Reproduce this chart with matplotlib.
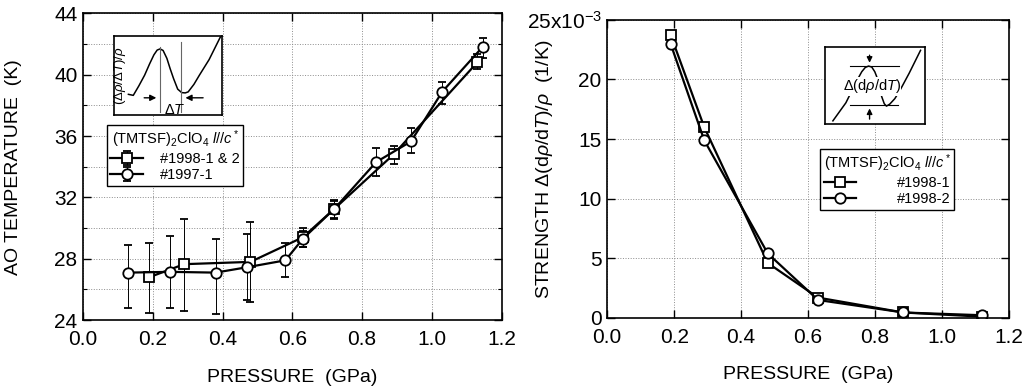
import matplotlib.pyplot as plt
from matplotlib.ticker import MultipleLocator, FixedLocator, FixedFormatter

plt.rcParams["font.family"] = ["Liberation Sans", "DejaVu Sans"]
plt.rcParams["mathtext.fontset"] = "custom"
plt.rcParams["mathtext.rm"] = "Liberation Sans"
plt.rcParams["mathtext.it"] = "Liberation Sans:italic"

# left panel: AO temperature vs pressure
sq_p = [0.19, 0.29, 0.48, 0.63, 0.72, 0.89, 1.13]
sq_t = [26.8, 27.65, 27.8, 29.4, 31.25, 34.8, 40.8]
sq_lo = [2.3, 3.05, 2.6, 0.6, 0.6, 0.6, 0.4]
sq_hi = [2.2, 2.95, 2.6, 0.6, 0.5, 0.55, 0.55]

ci_p = [0.13, 0.25, 0.38, 0.47, 0.58, 0.63, 0.72, 0.84, 0.94, 1.03, 1.145]
ci_t = [27.1, 27.15, 27.1, 27.45, 27.9, 29.3, 31.25, 34.3, 35.65, 38.9, 41.8]
ci_lo = [2.3, 2.35, 2.7, 2.15, 1.1, 0.5, 0.65, 0.9, 0.75, 0.8, 0.7]
ci_hi = [1.8, 2.35, 2.2, 2.15, 1.1, 0.5, 0.55, 0.9, 0.85, 0.65, 0.6]

# right panel: strength (x10^-3 1/K) vs pressure
r_p = [0.19, 0.29, 0.48, 0.63, 0.885, 1.12]
r_sq = [23.7, 16.0, 4.6, 1.7, 0.45, 0.1]
r_ci = [22.95, 14.9, 5.4, 1.5, 0.45, 0.22]

# inset sketches (axes-fraction coordinates)
insL_x = [0.134, 0.179, 0.23, 0.284, 0.33, 0.37, 0.40, 0.427, 0.455, 0.49, 0.52, 0.552,
          0.59, 0.627, 0.66, 0.687, 0.74, 0.791, 0.881, 0.985]
insL_y = [0.264, 0.251, 0.37, 0.507, 0.65, 0.765, 0.825, 0.84, 0.82, 0.72, 0.59, 0.463,
          0.33, 0.286, 0.282, 0.295, 0.39, 0.507, 0.705, 0.991]
insR_x = [0.081, 0.211, 0.325, 0.37, 0.405, 0.438, 0.47, 0.5, 0.519, 0.545, 0.568, 0.595,
          0.617, 0.65, 0.7, 0.747, 0.844, 0.958]
insR_y = [0.043, 0.277, 0.574, 0.68, 0.735, 0.753, 0.74, 0.68, 0.617, 0.49, 0.362, 0.265,
          0.234, 0.26, 0.33, 0.426, 0.66, 0.957]

fig = plt.figure(figsize=(10.24, 3.9), dpi=100)
axL = fig.add_axes([0.081, 0.179, 0.409, 0.787])
axR = fig.add_axes([0.593, 0.185, 0.392, 0.764])

mk = dict(color="black", lw=1.6, mfc="white", mew=1.3)
eb = dict(ecolor="black", elinewidth=0.7, capsize=3, capthick=0.7)

axL.errorbar(sq_p, sq_t, yerr=[sq_lo, sq_hi], marker="s", ms=6.5, label="#1998-1 & 2", **mk, **eb)
axL.errorbar(ci_p, ci_t, yerr=[ci_lo, ci_hi], marker="o", ms=7.5, label="#1997-1", **mk, **eb)
axL.set_ylim(24, 44)
axL.yaxis.set_major_locator(MultipleLocator(4))
axL.yaxis.set_minor_locator(MultipleLocator(2))
axL.set_ylabel("AO TEMPERATURE  (K)", fontsize=14)
axL.yaxis.set_label_coords(-0.146, 0.5)

axR.plot(r_p, r_sq, marker="s", ms=6.5, label="#1998-1", **mk)
axR.plot(r_p, r_ci, marker="o", ms=7.5, label="#1998-2", **mk)
axR.set_ylim(0, 25)
axR.yaxis.set_major_locator(FixedLocator([0, 5, 10, 15, 20, 25]))
axR.yaxis.set_major_formatter(FixedFormatter(["0", "5", "10", "15", "20", "25x10$^{-3}$"]))
axR.set_ylabel(r"STRENGTH $\Delta$(d$\rho$/d$\mathit{T}$)/$\rho$  (1/K)", fontsize=14)
axR.yaxis.set_label_coords(-0.13, 0.5)

for ax in (axL, axR):
    ax.set_xlim(0, 1.2)
    ax.xaxis.set_major_locator(MultipleLocator(0.2))
    ax.xaxis.set_major_formatter(plt.FuncFormatter(lambda v, _: f"{v:.1f}"))
    ax.set_xlabel("PRESSURE  (GPa)", fontsize=14)
    ax.xaxis.set_label_coords(0.5, -0.16)
    ax.tick_params(which="both", direction="in", top=True, right=True, labelsize=15)
    ax.tick_params(which="major", length=6, width=1)
    ax.tick_params(axis="x", which="major", pad=7)
    ax.tick_params(axis="y", which="major", pad=4)
    ax.tick_params(which="minor", length=3, width=0.8)
    ax.grid(True, which="both", ls=":", lw=0.7, color="0.55")
    for s in ax.spines.values():
        s.set_linewidth(1.2)

legL = axL.legend(loc="upper left", bbox_to_anchor=(0.057, 0.637), fontsize=10.5,
                  title="(TMTSF)$_2$ClO$_4$ $\\mathit{l//c^*}$", title_fontsize=10.5,
                  frameon=True, fancybox=False, edgecolor="black", framealpha=1,
                  handlelength=2.2, borderpad=0.25, labelspacing=0.15, borderaxespad=0,
                  handletextpad=1.2)
legL.get_frame().set_linewidth(1.0)
legR = axR.legend(loc="upper left", bbox_to_anchor=(0.53, 0.568), fontsize=10.5,
                  title="(TMTSF)$_2$ClO$_4$ $\\mathit{l//c^*}$", title_fontsize=10.5,
                  frameon=True, fancybox=False, edgecolor="black", framealpha=1,
                  handlelength=2.2, borderpad=0.25, labelspacing=0.15, borderaxespad=0,
                  handletextpad=2.8)
legR.get_frame().set_linewidth(1.0)

# left inset
iL = axL.inset_axes([0.074, 0.668, 0.258, 0.257])
iL.plot(insL_x, insL_y, color="black", lw=1.1)
iL.plot([0.427, 0.427], [0.04, 0.87], color="0.4", lw=0.8)
iL.plot([0.621, 0.621], [0.04, 0.925], color="0.4", lw=0.8)
iL.annotate("", xy=(0.418, 0.22), xytext=(0.254, 0.22),
            arrowprops=dict(arrowstyle="-|>", color="black", lw=1.0, mutation_scale=9))
iL.annotate("", xy=(0.636, 0.22), xytext=(0.851, 0.22),
            arrowprops=dict(arrowstyle="-|>", color="black", lw=1.0, mutation_scale=9))
iL.text(0.567, -0.02, r"$\mathit{\Delta T}$", fontsize=10.5, ha="center", va="bottom")
iL.text(0.06, 0.5, r"$\mathit{(\Delta\rho/\Delta T)/\rho}$", fontsize=9.5, rotation=90,
        ha="center", va="center")

# right inset
iR = axR.inset_axes([0.542, 0.65, 0.249, 0.259])
iR.plot(insR_x, insR_y, color="black", lw=1.1)
iR.plot([0.253, 0.74], [0.753, 0.753], color="black", lw=0.8)
iR.plot([0.253, 0.73], [0.243, 0.243], color="black", lw=0.8)
iR.annotate("", xy=(0.448, 0.76), xytext=(0.448, 0.93),
            arrowprops=dict(arrowstyle="-|>", color="black", lw=1.0, mutation_scale=8))
iR.annotate("", xy=(0.448, 0.24), xytext=(0.448, 0.03),
            arrowprops=dict(arrowstyle="-|>", color="black", lw=1.0, mutation_scale=8))
iR.text(0.47, 0.49, r"$\Delta$(d$\rho$/d$\mathit{T}$)", fontsize=10.5, ha="center", va="center",
        bbox=dict(facecolor="white", edgecolor="none", pad=0.3))

for ins in (iL, iR):
    ins.set_xlim(0, 1)
    ins.set_ylim(0, 1)
    ins.set_xticks([])
    ins.set_yticks([])
    ins.set_facecolor("white")
    for s in ins.spines.values():
        s.set_linewidth(1.2)

fig.savefig("out.png", dpi=100)
